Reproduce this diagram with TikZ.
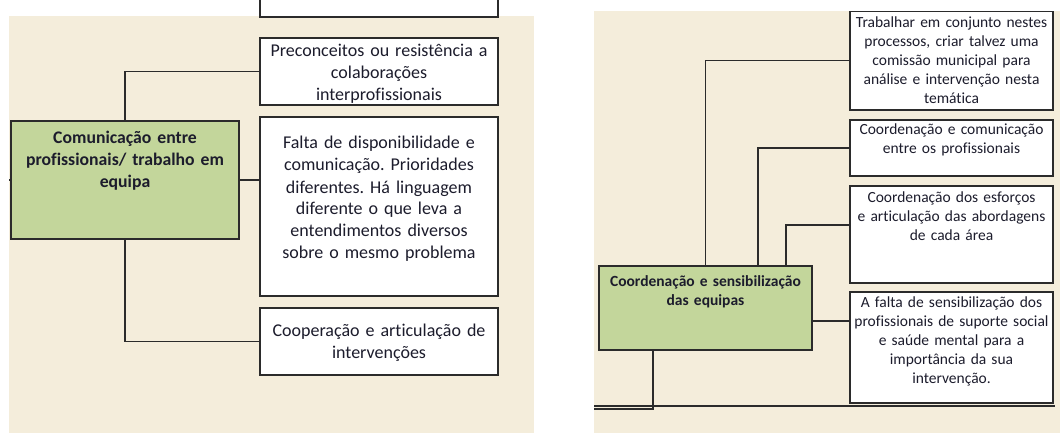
\documentclass[tikz,border=0pt]{standalone}
\usepackage{fontspec}
\setmainfont{Carlito}[Ligatures=NoCommon]
\usepackage{tikz}
\usetikzlibrary{positioning}
\definecolor{panelbg}{HTML}{F4EDDB}
\definecolor{greenbox}{HTML}{C3D69B}
\definecolor{edge}{HTML}{2B2B2B}
\definecolor{ink}{HTML}{1C1C2C}
\frenchspacing

\begin{document}
\begin{tikzpicture}[x=1pt,y=-1pt,
		box/.style={draw=edge, line width=1.5pt, fill=white, inner sep=0pt, outer sep=0pt},
		gbox/.style={box, fill=greenbox},
		conn/.style={draw=edge, line width=1.4pt},
		bigtxt/.style={text=ink, anchor=base, align=center, text width=260pt, inner sep=0pt, font=\fontsize{18}{22}\selectfont},
		smalltxt/.style={text=ink, anchor=base, align=center, text width=240pt, inner sep=0pt, font=\fontsize{15.5}{19}\selectfont}
		]
		\clip (0,0) rectangle (1060,433);
		\fill [panelbg] (9,16) rectangle (534,433);
		\fill [panelbg] (594,11) rectangle (1060,433);
		
		\node [box, minimum width=238pt, minimum height=27pt] (topcut) at (379,3.5) {};
		\node [box, minimum width=238pt, minimum height=67pt] (precon) at (379,71.5) {};
		\node [box, minimum width=238pt, minimum height=179pt] (falta) at (379,206.5) {};
		\node [box, minimum width=238pt, minimum height=67pt] (coop) at (379,341.5) {};
		\node [gbox, minimum width=228pt, minimum height=118pt] (comun) at (125,180) {};
		
		\node [bigtxt] (precon-t) at (379,57) {Preconceitos ou resistência a\\colaborações\\interprofissionais};
		\node [bigtxt] (falta-t) at (379,149) {Falta de disponibilidade e\\comunicação. Prioridades\\diferentes. Há linguagem\\diferente o que leva a\\entendimentos diversos\\sobre o mesmo problema};
		\node [bigtxt] (coop-t) at (379,336) {Cooperação e articulação de\\intervenções};
		\node [bigtxt, font=\fontsize{17.7}{22}\selectfont\bfseries] (comun-t) at (125,143) {Comunicação entre\\profissionais/ trabalho em\\equipa};
		
		\coordinate (lcut) at (9,180);
		\draw [conn] (comun.north) |- (precon.west);
		\draw [conn] (comun.east) -- (comun.east -| falta.west);
		\draw [conn] (comun.south) |- (coop.west);
		\draw [conn] (comun.west) -- (lcut);
		
		\begin{scope}
			\clip (594,12) rectangle (1060,433);
			\node [box, minimum width=203pt, minimum height=99pt] (trab) at (951.5,60.5) {};
			\node [box, minimum width=203pt, minimum height=56pt] (coorcom) at (951.5,148) {};
			\node [box, minimum width=203pt, minimum height=97pt] (esforco) at (951.5,234.5) {};
			\node [box, minimum width=203pt, minimum height=111pt] (sensib) at (951.5,347.5) {};
			\node [gbox, minimum width=213pt, minimum height=84pt] (coord) at (705.5,308) {};
			
			\node [smalltxt] (trab-t) at (951.5,28) {Trabalhar em conjunto nestes\\processos, criar talvez uma\\comissão municipal para\\análise e intervenção nesta\\temática};
			\node [smalltxt] (coorcom-t) at (951.5,135) {Coordenação e comunicação\\entre os profissionais};
			\node [smalltxt] (esforco-t) at (951.5,202) {Coordenação dos esforços\\e articulação das abordagens\\de cada área};
			\node [smalltxt] (sensib-t) at (951.5,307) {A falta de sensibilização dos\\profissionais de suporte social\\e saúde mental para a\\importância da sua\\intervenção.};
			\node [smalltxt, font=\fontsize{15.5}{19}\selectfont\bfseries] (coord-t) at (705.5,286) {Coordenação e sensibilização\\das equipas};
			
			\coordinate (rcut) at (594,409);
			\coordinate (baseL) at (594,406);
			\coordinate (baseR) at (1055,406);
			\draw [conn] (coord.north) |- (trab.west);
			\draw [conn] ([xshift=52.5pt]coord.north) |- (coorcom.west);
			\draw [conn] ([xshift=80.5pt]coord.north) |- ([yshift=9.5pt]esforco.west);
			\draw [conn] ([yshift=-13pt]coord.east) -- ([yshift=-13pt]coord.east -| sensib.west);
			\draw [conn] ([xshift=-52.5pt]coord.south) |- (rcut);
			\draw [conn] (baseL) -- (baseR);
		\end{scope}
\end{tikzpicture}
\end{document}
